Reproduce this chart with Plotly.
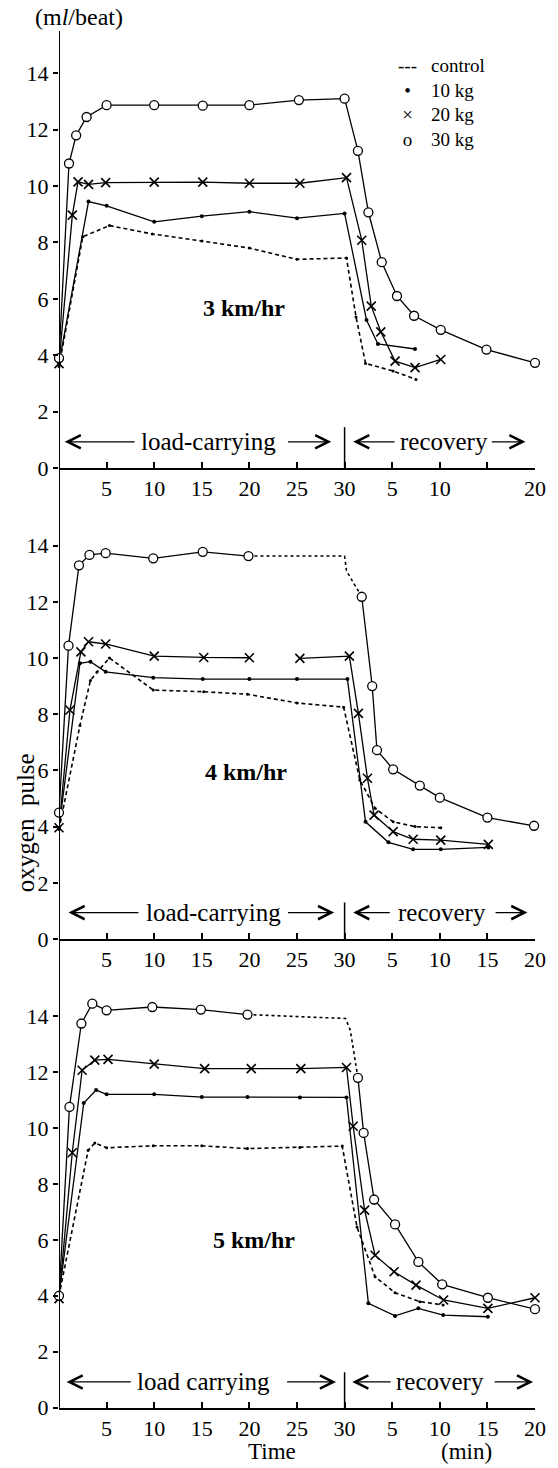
import plotly.graph_objects as go

SERIF = "Liberation Serif, Times New Roman, serif"

# Time axis: minutes of load carrying (0-30); recovery minute r is plotted at 30 + r
tick_vals = [5, 10, 15, 20, 25, 30, 35, 40, 45, 50]
tick_text_3 = ["5", "10", "15", "20", "25", "30", "5", "10", "", "20"]
tick_text_4 = ["5", "10", "15", "20", "25", "30", "5", "10", "15", "20"]
tick_text_5 = ["5", "10", "15", "20", "25", "30", "5", "10", "15", "20"]
y_ticks = [0, 2, 4, 6, 8, 10, 12, 14]

# ---- 3 km/hr ----
s3_ctrl_t = [0, 2.5, 5.3, 9.8, 15, 20, 25, 30.2, 31.2, 32.2, 35.1, 37.5]
s3_ctrl_v = [3.6, 8.2, 8.6, 8.3, 8.05, 7.8, 7.4, 7.45, 5.36, 3.71, 3.44, 3.14]
s3_k10_t = [0, 3.1, 5, 10, 15, 20, 25, 30, 32.3, 33.5, 37.4]
s3_k10_v = [3.7, 9.45, 9.3, 8.73, 8.93, 9.09, 8.86, 9.03, 5.25, 4.4, 4.22]
s3_k20_t = [0, 1.4, 2.0, 3.1, 4.9, 10, 15.1, 20, 25.3, 30.2, 31.8, 32.8, 33.8, 35.3, 37.4, 40.1]
s3_k20_v = [3.7, 8.97, 10.15, 10.06, 10.12, 10.14, 10.14, 10.1, 10.1, 10.3, 8.08, 5.74, 4.83, 3.79, 3.56, 3.85]
s3_k30_t = [0, 1.05, 1.8, 2.9, 5, 10, 15.1, 20, 25.2, 30, 31.4, 32.5, 33.9, 35.5, 37.3, 40.1, 44.9, 50]
s3_k30_v = [3.9, 10.8, 11.8, 12.45, 12.87, 12.87, 12.85, 12.87, 13.05, 13.1, 11.25, 9.07, 7.3, 6.1, 5.4, 4.9, 4.2, 3.73]

# ---- 4 km/hr ----
s4_ctrl_t = [0, 2.2, 3.3, 4.0, 5.3, 9.9, 15.2, 19.8, 25, 29.9, 31.6, 33.2, 35.1, 37.4, 40.1]
s4_ctrl_v = [3.9, 7.6, 9.2, 9.5, 10.0, 8.86, 8.8, 8.71, 8.4, 8.25, 5.66, 4.65, 4.17, 4.0, 3.96]
s4_k10_t = [0, 2.2, 3.3, 4.9, 9.9, 15.1, 20, 25, 30.3, 32.2, 34.6, 37.2, 40.1, 45.1]
s4_k10_v = [3.95, 9.81, 9.87, 9.51, 9.3, 9.25, 9.25, 9.25, 9.25, 4.17, 3.44, 3.19, 3.19, 3.26]
s4_k20_t = [0, 1.15, 2.3, 3.1, 4.9, 10, 15.2, 20, None, 25.3, 30.5, 31.45, 32.4, 33.1, 35.1, 37.2, 40.1, 45.1]
s4_k20_v = [3.96, 8.15, 10.22, 10.58, 10.5, 10.07, 10.02, 10.01, None, 9.99, 10.07, 8.03, 5.72, 4.41, 3.82, 3.55, 3.52, 3.37]
s4_k30_t = [0, 1.0, 2.1, 3.2, 4.9, 9.9, 15.1, 19.9]
s4_k30_v = [4.5, 10.44, 13.3, 13.67, 13.73, 13.55, 13.78, 13.63]
s4_k30_gap_t = [19.9, 30, 30.2, 31.8]
s4_k30_gap_v = [13.63, 13.63, 13.1, 12.18]
s4_k30_rec_t = [31.8, 32.9, 33.4, 35.1, 37.9, 40, 45, 49.9]
s4_k30_rec_v = [12.18, 9.0, 6.72, 6.04, 5.46, 5.03, 4.32, 4.03]

# ---- 5 km/hr ----
s5_ctrl_t = [0, 3.06, 3.76, 5.0, 9.9, 15.0, 19.8, 25.3, 29.75, 31.3, 33.2, 35.3, 37.9, 40.35]
s5_ctrl_v = [4.0, 9.2, 9.46, 9.29, 9.36, 9.36, 9.26, 9.3, 9.35, 6.46, 4.68, 4.11, 3.79, 3.67]
s5_k10_t = [0, 2.6, 3.9, 5.0, 10.0, 15.0, 19.8, 25.3, 30.2, 32.5, 35.3, 37.75, 40.35, 45.05]
s5_k10_v = [4.0, 10.89, 11.35, 11.2, 11.2, 11.1, 11.1, 11.09, 11.09, 3.73, 3.28, 3.55, 3.31, 3.25]
s5_k20_t = [0, 1.39, 2.43, 3.76, 5.15, 10.0, 15.3, 20.2, 25.4, 30.2, 30.9, 32.1, 33.2, 35.2, 37.5, 40.4, 45.05, 50.0]
s5_k20_v = [3.9, 9.11, 12.06, 12.42, 12.45, 12.28, 12.12, 12.12, 12.12, 12.16, 10.06, 7.06, 5.45, 4.86, 4.38, 3.85, 3.55, 3.93]
s5_k30_t = [0, 1.1, 2.35, 3.5, 5.0, 9.8, 14.9, 19.8]
s5_k30_v = [4.0, 10.75, 13.73, 14.44, 14.2, 14.32, 14.23, 14.05]
s5_k30_gap_t = [19.8, 30.1, 30.6, 31.4]
s5_k30_gap_v = [14.05, 13.91, 13.49, 11.79]
s5_k30_rec_t = [31.4, 32.0, 33.1, 35.3, 37.75, 40.25, 45.05, 50.0]
s5_k30_rec_v = [11.79, 9.82, 7.44, 6.55, 5.21, 4.41, 3.93, 3.52]

# legend entries (panel 1)
legend_sym = ["---", "•", "×", "o"]
legend_lab = ["control", "10 kg", "20 kg", "30 kg"]

fig = go.Figure()

def add_series(k, ctrl, k10, k20, k30_parts, gap):
    xa = "x" if k == 1 else f"x{k}"
    ya = "y" if k == 1 else f"y{k}"
    common = dict(xaxis=xa, yaxis=ya, cliponaxis=False, showlegend=False, hoverinfo="skip")
    fig.add_trace(go.Scatter(x=ctrl[0], y=ctrl[1], mode="lines+markers",
                             line=dict(color="black", width=1.6, dash="4px,3px"),
                             marker=dict(size=3, color="black"), **common))
    fig.add_trace(go.Scatter(x=k10[0], y=k10[1], mode="lines+markers",
                             line=dict(color="black", width=1.3),
                             marker=dict(size=4, color="black"), **common))
    fig.add_trace(go.Scatter(x=k20[0], y=k20[1], mode="lines+markers",
                             line=dict(color="black", width=1.3),
                             marker=dict(symbol="x-thin", size=9,
                                         line=dict(color="black", width=1.6)), **common))
    if gap is not None:
        fig.add_trace(go.Scatter(x=gap[0], y=gap[1], mode="lines",
                                 line=dict(color="black", width=1.6, dash="dot"), **common))
    for part in k30_parts:
        fig.add_trace(go.Scatter(x=part[0], y=part[1], mode="lines+markers",
                                 line=dict(color="black", width=1.3),
                                 marker=dict(symbol="circle", size=9, color="white",
                                             line=dict(color="black", width=1.3)), **common))

add_series(1, (s3_ctrl_t, s3_ctrl_v), (s3_k10_t, s3_k10_v), (s3_k20_t, s3_k20_v),
           [(s3_k30_t, s3_k30_v)], None)
add_series(2, (s4_ctrl_t, s4_ctrl_v), (s4_k10_t, s4_k10_v), (s4_k20_t, s4_k20_v),
           [(s4_k30_t, s4_k30_v), (s4_k30_rec_t, s4_k30_rec_v)], (s4_k30_gap_t, s4_k30_gap_v))
add_series(3, (s5_ctrl_t, s5_ctrl_v), (s5_k10_t, s5_k10_v), (s5_k20_t, s5_k20_v),
           [(s5_k30_t, s5_k30_v), (s5_k30_rec_t, s5_k30_rec_v)], (s5_k30_gap_t, s5_k30_gap_v))

domains = [[0.68182, 0.99219], [0.34730, 0.65661], [0.01442, 0.32244]]
tick_texts = [tick_text_3, tick_text_4, tick_text_5]

layout = dict(width=558, height=1468, margin=dict(l=59, r=20, t=20, b=40),
              paper_bgcolor="white", plot_bgcolor="white", showlegend=False,
              font=dict(family=SERIF, color="black", size=22))
for k in range(1, 4):
    sx = "" if k == 1 else str(k)
    layout["xaxis" + sx] = dict(domain=[0, 1], range=[0, 50], anchor="y" + sx,
                                showline=True, linecolor="black", linewidth=2,
                                ticks="inside", ticklen=6, tickwidth=1.5, tickcolor="black",
                                tickvals=tick_vals, ticktext=tick_texts[k - 1],
                                tickfont=dict(family=SERIF, size=22, color="black"),
                                showgrid=False, zeroline=False)
    layout["yaxis" + sx] = dict(domain=domains[k - 1], range=[0, 15.5], anchor="x" + sx,
                                showline=False, ticks="outside", ticklen=5, tickwidth=1.5,
                                tickcolor="black", tickvals=y_ticks,
                                tickfont=dict(family=SERIF, size=22, color="black"),
                                showgrid=False, zeroline=False)
fig.update_layout(**layout)

shapes = [dict(type="line", xref="x", yref="paper", x0=0, x1=0,
               y0=domains[2][0], y1=domains[0][1], line=dict(color="black", width=2))]
sep_tops = [1.45, 1.3, 1.27]
for k in range(1, 4):
    sx = "" if k == 1 else str(k)
    shapes.append(dict(type="line", xref="x" + sx, yref="y" + sx, x0=30, x1=30,
                       y0=0, y1=sep_tops[k - 1], line=dict(color="black", width=1.5)))
fig.update_layout(shapes=shapes)

ann = []
def txt(text, x, y, xref, yref, size=25, xanchor="center", bold=False, angle=0, align="center"):
    t = f"<b>{text}</b>" if bold else text
    ann.append(dict(text=t, x=x, y=y, xref=xref, yref=yref, showarrow=False,
                    xanchor=xanchor, yanchor="middle", textangle=angle, align=align,
                    font=dict(family=SERIF, size=size, color="black")))

def arrow(x_tip, x_tail, y, k):
    sx = "" if k == 1 else str(k)
    ann.append(dict(text="", x=x_tip, y=y, ax=x_tail, ay=y, xref="x" + sx, yref="y" + sx,
                    axref="x" + sx, ayref="y" + sx, showarrow=True, arrowhead=5,
                    arrowsize=2.0, arrowwidth=1.3, arrowcolor="black"))

speed_labels = ["3 km/hr", "4 km/hr", "5 km/hr"]
speed_pos = [(19.4, 5.67), (19.6, 5.95), (20.5, 5.99)]
load_labels = ["load-carrying", "load-carrying", "load carrying"]
load_x = [15.7, 16.2, 15.2]
rec_x = [40.4, 40.2, 40.0]
arr_y = [0.93, 0.94, 0.92]
left_arr = [(0.6, 8.1), (1.0, 8.5), (0.8, 7.7)]
right_arr = [(28.6, 23.9), (28.9, 23.9), (29.1, 23.8)]
rec_left = [(30.9, 35.4), (30.9, 34.9), (30.8, 35.0)]
rec_right = [(49.0, 45.3), (49.2, 45.7), (49.8, 45.6)]

for k in range(1, 4):
    sx = "" if k == 1 else str(k)
    i = k - 1
    txt(speed_labels[i], speed_pos[i][0], speed_pos[i][1], "x" + sx, "y" + sx, size=24, bold=True)
    txt(load_labels[i], load_x[i], arr_y[i], "x" + sx, "y" + sx)
    txt("recovery", rec_x[i], arr_y[i], "x" + sx, "y" + sx)
    arrow(left_arr[i][0], left_arr[i][1], arr_y[i], k)
    arrow(right_arr[i][0], right_arr[i][1], arr_y[i], k)
    arrow(rec_left[i][0], rec_left[i][1], arr_y[i], k)
    arrow(rec_right[i][0], rec_right[i][1], arr_y[i], k)

# legend as two text blocks (symbols column, labels column)
txt("<br>".join(legend_sym), 36.6, 12.95, "x", "y", size=19)
txt("<br>".join(legend_lab), 38.9, 12.95, "x", "y", size=19, xanchor="left", align="left")

txt("(m<i>l</i>/beat)", (79 - 59) / 479, (1428 - 16.7) / 1408, "paper", "paper", size=24)
txt("oxygen  pulse", (25 - 59) / 479, (1428 - 823) / 1408, "paper", "paper", size=25, angle=-90)
txt("Time", (273 - 59) / 479, (1428 - 1451) / 1408, "paper", "paper", size=23)
txt("(min)", (469 - 59) / 479, (1428 - 1451) / 1408, "paper", "paper", size=23)

fig.update_layout(annotations=ann)
fig.write_html("out.html")
